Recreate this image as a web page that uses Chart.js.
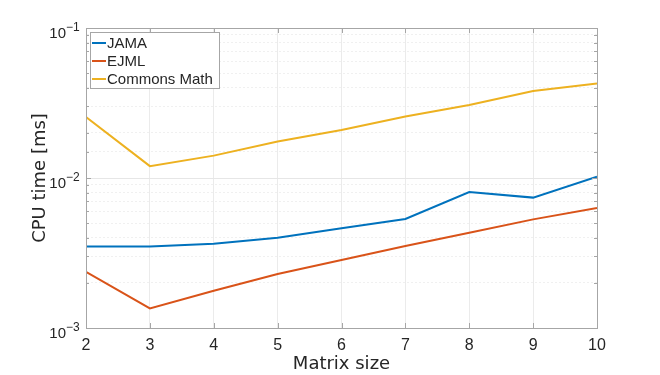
<!DOCTYPE html>
<html>
<head>
<meta charset="utf-8">
<script src="https://cdn.jsdelivr.net/npm/chart.js@4"></script>
<style>
    html, body { margin: 0; padding: 0; background: #fff; }
    #wrap { width: 660px; height: 375px; }
</style>
</head>
<body>
<div id="wrap"><canvas id="myChart" width="660" height="375"></canvas></div>
<script>
const sizes = [2, 3, 4, 5, 6, 7, 8, 9, 10];
const jama = [0.0035, 0.0035, 0.00365, 0.0040, 0.00462, 0.00533, 0.00807, 0.0074, 0.0102];
const ejml = [0.00237, 0.00135, 0.00177, 0.00229, 0.00284, 0.00352, 0.00432, 0.0053, 0.0063];
const commons = [0.0255, 0.0120, 0.0141, 0.0175, 0.0209, 0.0257, 0.0307, 0.038, 0.0426];
const seriesNames = ['JAMA', 'EJML', 'Commons Math'];
const seriesColors = ['#0072BD', '#D95319', '#EDB120'];
const yTickVals = [0.001, 0.01, 0.1];
const yTickExp = ['\u22123', '\u22122', '\u22121'];

const FONT = '"Liberation Sans", Arial, Helvetica, sans-serif';
const TITLE_FONT = '"DejaVu Sans", sans-serif';
const AXIS = '#a6a6a6';
const TEXT = '#262626';

function pts(vals) {
    return sizes.map(function(s, i) { return {x: s, y: vals[i]}; });
}

function isDecade(v) {
    const l = Math.log10(v);
    return Math.abs(l - Math.round(l)) < 1e-9;
}

const matlabAxes = {
    id: 'matlabAxes',
    afterDraw(chart) {
        const ctx = chart.ctx;
        const a = chart.chartArea;
        const xs = chart.scales.x;
        const ys = chart.scales.y;
        ctx.save();

        // box
        ctx.strokeStyle = AXIS;
        ctx.lineWidth = 1;
        ctx.strokeRect(Math.round(a.left) + 0.5, Math.round(a.top) + 0.5,
            Math.round(a.right - a.left), Math.round(a.bottom - a.top));

        // inward ticks
        ctx.beginPath();
        for (const s of sizes) {
            const px = Math.round(xs.getPixelForValue(s)) + 0.5;
            ctx.moveTo(px, a.bottom);
            ctx.lineTo(px, a.bottom - 5);
            ctx.moveTo(px, a.top);
            ctx.lineTo(px, a.top + 5);
        }
        for (const t of ys.ticks) {
            const py = Math.round(ys.getPixelForValue(t.value)) + 0.5;
            const len = isDecade(t.value) ? 5 : 3;
            ctx.moveTo(a.left, py);
            ctx.lineTo(a.left + len, py);
            ctx.moveTo(a.right, py);
            ctx.lineTo(a.right - len, py);
        }
        ctx.stroke();

        // y tick labels 10^n
        ctx.fillStyle = TEXT;
        ctx.textBaseline = 'alphabetic';
        yTickVals.forEach(function(v, i) {
            const py = ys.getPixelForValue(v);
            ctx.font = '15px ' + FONT;
            ctx.textAlign = 'right';
            ctx.fillText('10', 66, py + 10);
            ctx.font = '12px ' + FONT;
            ctx.textAlign = 'left';
            ctx.fillText(yTickExp[i], 66, py + 3);
        });

        // legend
        const lx = 90, ly = 32, lw = 129, lh = 56;
        ctx.fillStyle = '#fff';
        ctx.fillRect(lx, ly, lw, lh);
        ctx.strokeStyle = AXIS;
        ctx.strokeRect(lx + 0.5, ly + 0.5, lw, lh);
        ctx.font = '15px ' + FONT;
        ctx.textBaseline = 'middle';
        ctx.textAlign = 'left';
        chart.data.datasets.forEach(function(ds, i) {
            const yy = ly + 11 + i * 18;
            ctx.strokeStyle = ds.borderColor;
            ctx.lineWidth = 2;
            ctx.beginPath();
            ctx.moveTo(lx + 2, yy);
            ctx.lineTo(lx + 16, yy);
            ctx.stroke();
            ctx.fillStyle = TEXT;
            ctx.fillText(ds.label, lx + 17, yy + 1);
        });
        ctx.restore();
    }
};

const ctx = document.getElementById('myChart');
const myChart = new Chart(ctx, {
    type: 'line',
    data: {
        datasets: [jama, ejml, commons].map(function(vals, i) {
            return {
                label: seriesNames[i],
                data: pts(vals),
                borderColor: seriesColors[i],
                backgroundColor: seriesColors[i],
                borderWidth: 2,
                pointRadius: 0,
                tension: 0,
                fill: false
            };
        })
    },
    options: {
        responsive: false,
        animation: false,
        layout: { padding: { left: 0, top: 28, right: 63, bottom: 0 } },
        plugins: {
            legend: { display: false },
            tooltip: { enabled: false }
        },
        scales: {
            x: {
                type: 'linear',
                min: 2,
                max: 10,
                ticks: {
                    stepSize: 1,
                    color: TEXT,
                    font: { family: FONT, size: 16 },
                    padding: 8,
                    maxRotation: 0
                },
                grid: { color: '#ebebeb', drawTicks: false },
                border: { color: AXIS },
                title: {
                    display: true,
                    text: 'Matrix size',
                    color: TEXT,
                    font: { family: TITLE_FONT, size: 18 },
                    padding: { top: 2, bottom: 0 }
                },
                afterFit(scale) { scale.height = 47; }
            },
            y: {
                type: 'logarithmic',
                min: 0.001,
                max: 0.1,
                ticks: { display: false, autoSkip: false },
                grid: {
                    drawTicks: false,
                    color: function(c) {
                        return c.tick && isDecade(c.tick.value) ? '#e6e6e6' : '#f0f0f0';
                    }
                },
                border: {
                    color: AXIS,
                    dash: function(c) {
                        return c.tick && !isDecade(c.tick.value) ? [2, 2] : [];
                    }
                },
                title: {
                    display: true,
                    text: 'CPU time [ms]',
                    color: TEXT,
                    font: { family: TITLE_FONT, size: 18 },
                    padding: { top: 30, bottom: 0 }
                },
                afterFit(scale) { scale.width = 86; }
            }
        }
    },
    plugins: [matlabAxes]
});
</script>
</body>
</html>
